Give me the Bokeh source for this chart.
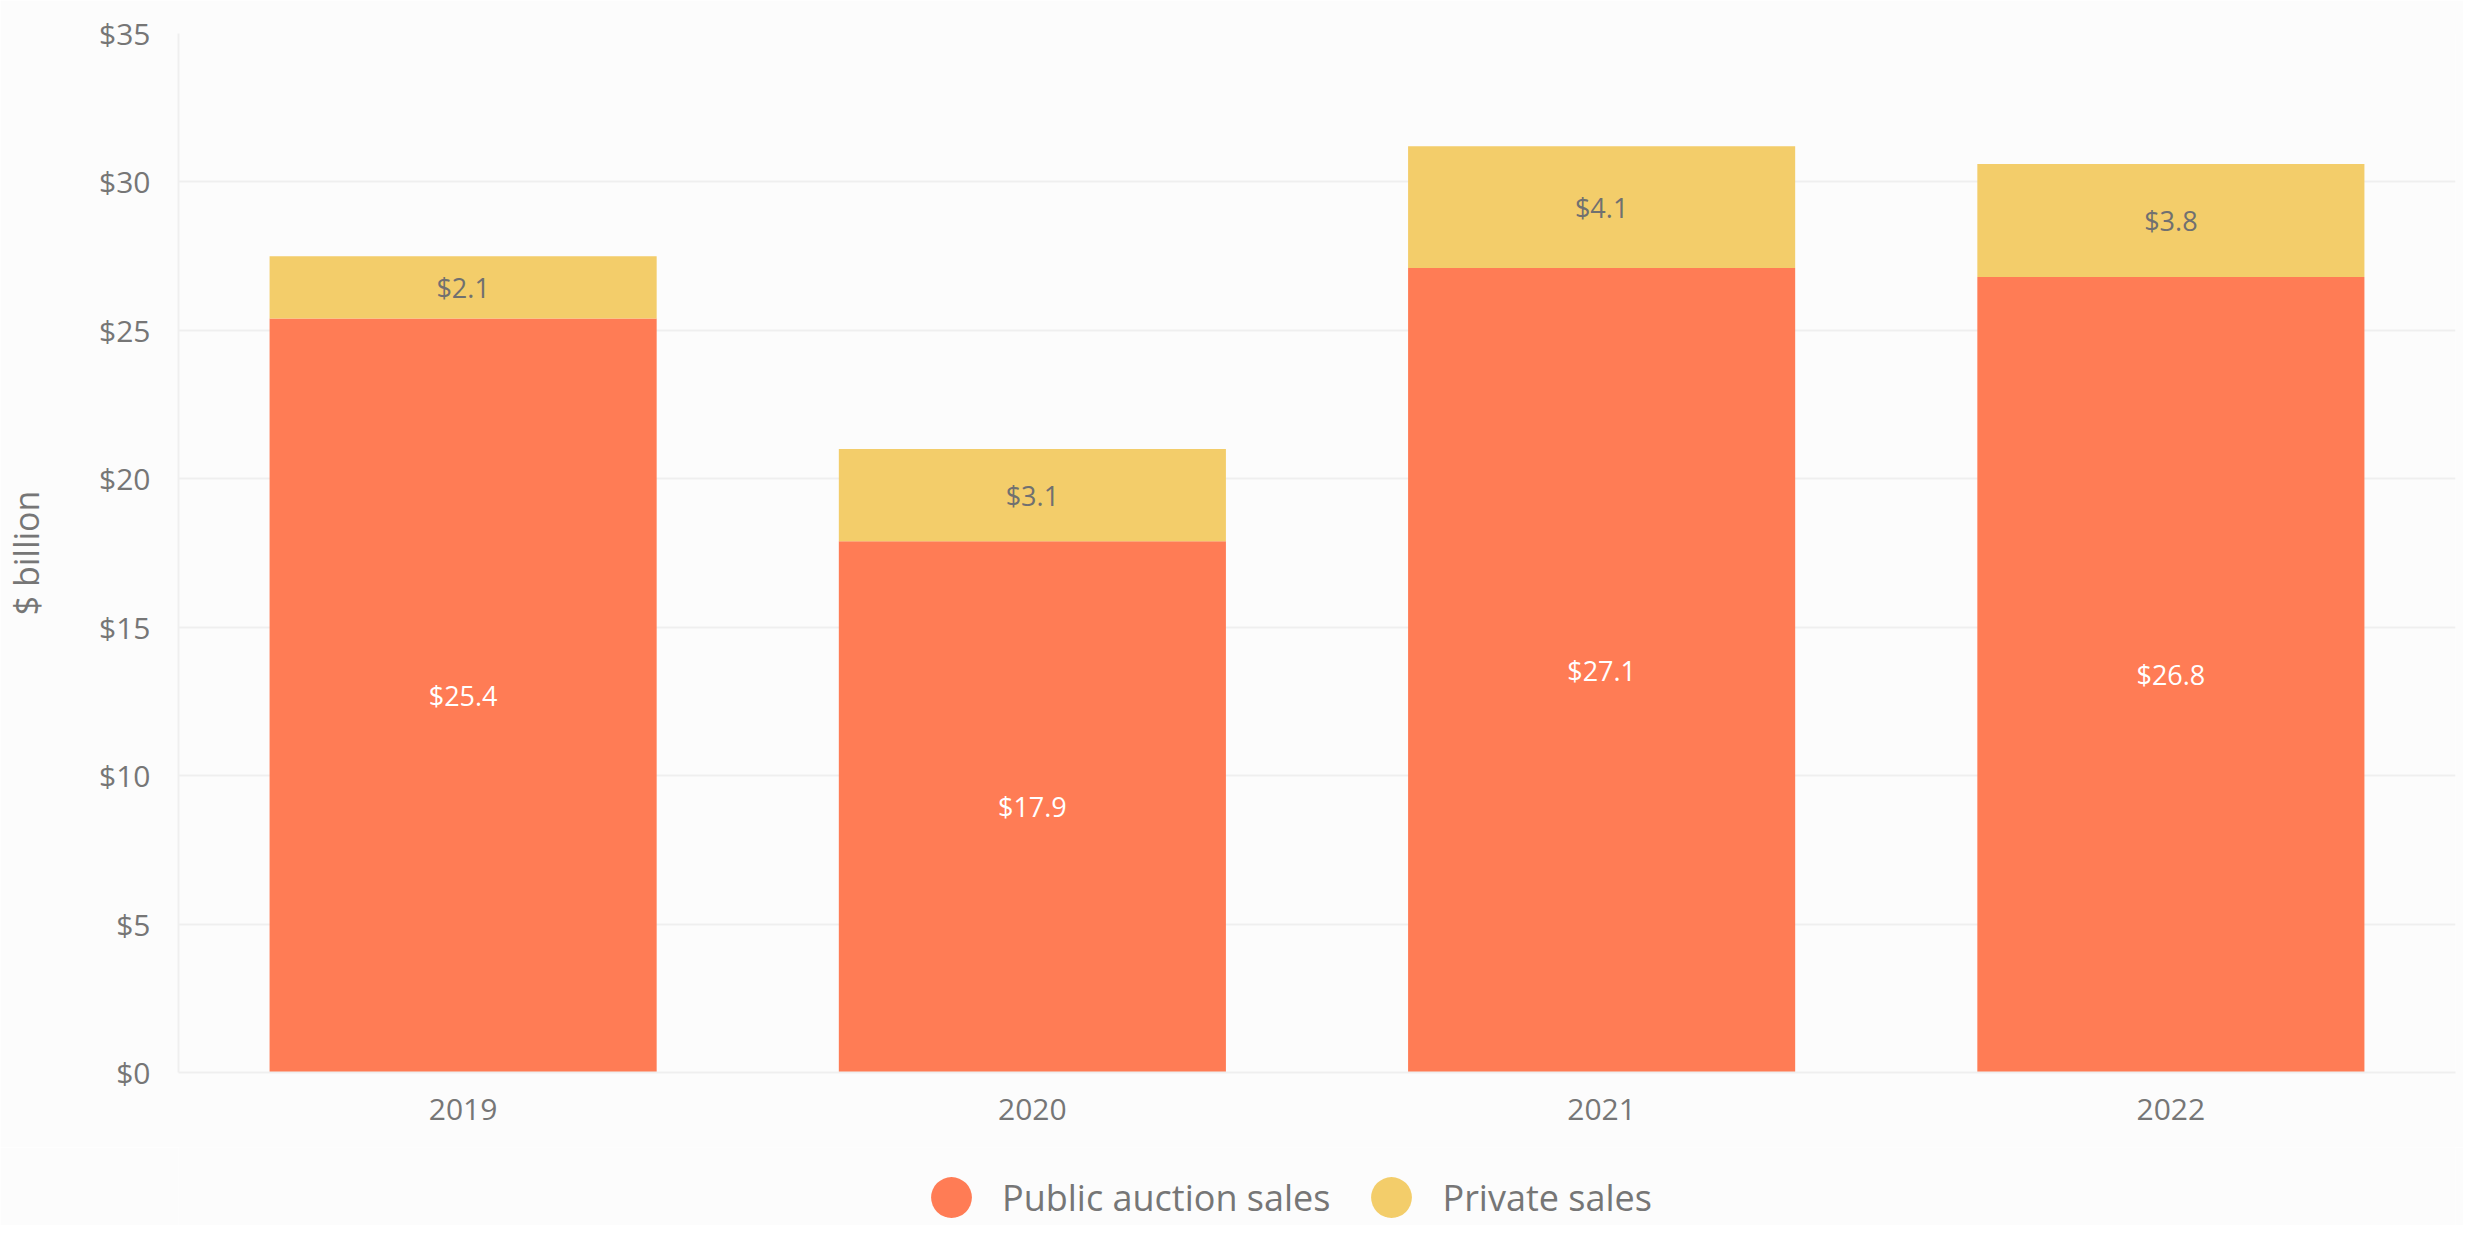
from bokeh.plotting import figure
from bokeh.layouts import column
from bokeh.models import (ColumnDataSource, FactorRange, Range1d, FixedTicker,
                          NumeralTickFormatter, Legend, LegendItem)
from bokeh.embed import file_html
from bokeh.resources import INLINE
from bokeh.core.properties import value

# ---- data ----
years = ["2019", "2020", "2021", "2022"]
public_sales = [25.4, 17.9, 27.1, 26.8]
private_sales = [2.1, 3.1, 4.1, 3.8]
y_ticks = [0, 5, 10, 15, 20, 25, 30, 35]
series_names = ["Public auction sales", "Private sales"]
y_title = "$ billion"

# ---- style ----
FONT = "Open Sans"
TEXT = "#767676"
ORANGE = "#FF7C55"
YELLOW = "#F3CD6A"
BG = "#FCFCFC"
GRID = "#EFEFEF"

totals = [a + b for a, b in zip(public_sales, private_sales)]
src = ColumnDataSource(dict(
    year=years,
    pub=public_sales,
    top=totals,
    pub_mid=[v / 2 for v in public_sales],
    priv_mid=[a + b / 2 for a, b in zip(public_sales, private_sales)],
    pub_lbl=[f"${v:.1f}" for v in public_sales],
    priv_lbl=[f"${v:.1f}" for v in private_sales],
))

p = figure(x_range=FactorRange(*years, range_padding=0), y_range=Range1d(0, 35),
           width=2463, height=1147, output_backend="svg", toolbar_location=None,
           min_border_left=173, min_border_right=8, min_border_top=33, min_border_bottom=75,
           background_fill_color=BG, border_fill_color=BG, outline_line_color=None)

p.vbar(x="year", bottom=0, top="pub", width=0.68, source=src,
       fill_color=ORANGE, line_color=None)
p.vbar(x="year", bottom="pub", top="top", width=0.68, source=src,
       fill_color=YELLOW, line_color=None)

p.text(x="year", y="pub_mid", text="pub_lbl", source=src, text_align="center",
       text_baseline="middle", text_font=value(FONT), text_font_size="27px",
       text_color="white")
p.text(x="year", y="priv_mid", text="priv_lbl", source=src, text_align="center",
       text_baseline="middle", text_font=value(FONT), text_font_size="27px",
       text_color="#707070")

# axes
p.yaxis.ticker = FixedTicker(ticks=y_ticks)
p.yaxis.formatter = NumeralTickFormatter(format="$0")
p.yaxis.axis_label = y_title
p.yaxis.axis_label_text_font = FONT
p.yaxis.axis_label_text_font_style = "normal"
p.yaxis.axis_label_text_font_size = "34px"
p.yaxis.axis_label_text_color = TEXT
p.yaxis.axis_label_standoff = 47
for ax in (p.xaxis[0], p.yaxis[0]):
    ax.axis_line_color = GRID
    ax.axis_line_width = 2
    ax.major_tick_line_color = None
    ax.minor_tick_line_color = None
    ax.major_label_text_font = FONT
    ax.major_label_text_font_size = "30px"
    ax.major_label_text_color = TEXT
p.yaxis.major_label_standoff = 22
p.xaxis.major_label_standoff = 20

p.xgrid.grid_line_color = None
p.ygrid.ticker = FixedTicker(ticks=y_ticks)
p.ygrid.grid_line_color = GRID
p.ygrid.grid_line_width = 2

# ---- legend strip ----
lg = figure(width=2463, height=78, x_range=Range1d(0, 1), y_range=Range1d(0, 1),
            output_backend="svg", toolbar_location=None, min_border=0,
            x_axis_location=None, y_axis_location=None,
            background_fill_color=BG, border_fill_color=BG, outline_line_color=None)
lg.grid.grid_line_color = None
# proxies: one point each, kept outside the visible range
r1 = lg.scatter(x=[-10], y=[-10], marker="circle", fill_color=ORANGE, line_color=None)
r2 = lg.scatter(x=[-10], y=[-10], marker="circle", fill_color=YELLOW, line_color=None)
legend = Legend(items=[LegendItem(label=series_names[0], renderers=[r1]),
                       LegendItem(label=series_names[1], renderers=[r2])],
                location=(722, -23), orientation="horizontal",
                glyph_width=102, glyph_height=102, label_standoff=0, spacing=10,
                padding=0, margin=0, border_line_color=None, background_fill_alpha=0,
                label_text_font=FONT, label_text_font_size="36px",
                label_text_color=TEXT, label_height=102)
lg.add_layout(legend, "center")

layout = column(p, lg, spacing=0)
open("out.html", "w").write(file_html(layout, INLINE))
